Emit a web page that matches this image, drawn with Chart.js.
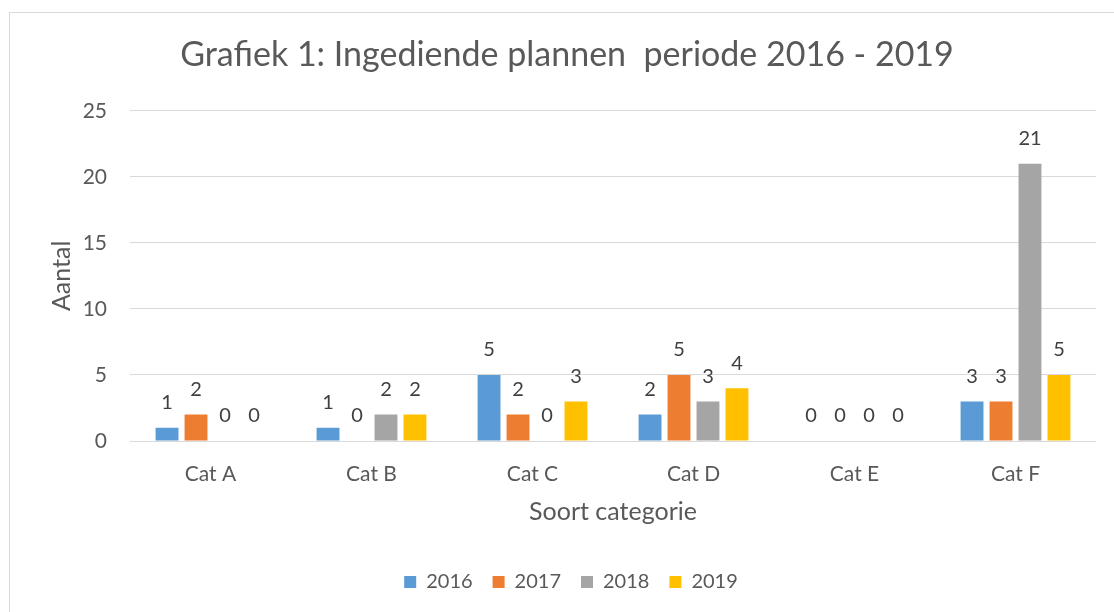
<!DOCTYPE html>
<html>
<head>
<meta charset="utf-8">
<script src="https://cdn.jsdelivr.net/npm/chart.js@4.4.1/dist/chart.umd.min.js"></script>
<style>
  html, body { margin: 0; padding: 0; background: #fff; overflow: hidden; }
  #frame { position: absolute; left: 9px; top: 12px; width: 1200px; height: 700px; border: 1px solid #d9d9d9; }
  #wrap { position: absolute; left: 0; top: 0; width: 1114px; height: 612px; }
</style>
</head>
<body>
<div id="frame"></div>
<div id="wrap"><canvas id="chart"></canvas></div>
<script>
'use strict';

// categories and values per year
var categories = ['Cat A', 'Cat B', 'Cat C', 'Cat D', 'Cat E', 'Cat F'];
var years = ['2016', '2017', '2018', '2019'];
var values2016 = [1, 1, 5, 2, 0, 3];
var values2017 = [2, 0, 2, 5, 0, 3];
var values2018 = [0, 2, 0, 3, 0, 21];
var values2019 = [0, 2, 3, 4, 0, 5];
var yTicks = [0, 5, 10, 15, 20, 25];

var colors = ['#5b9bd5', '#ed7d31', '#a5a5a5', '#ffc000'];
var FONT = 'Lato';

// value labels above each bar
var barLabels = {
  id: 'barLabels',
  afterLayout: function(chart) {
    // Excel centres title and legend a bit further right
    chart.legend.left += 46;
    chart.titleBlock.left += 38;
  },
  afterDatasetsDraw: function(chart) {
    var ctx = chart.ctx;
    ctx.save();
    ctx.font = '20px ' + FONT;
    ctx.fillStyle = '#404040';
    ctx.textAlign = 'center';
    ctx.textBaseline = 'middle';
    chart.data.datasets.forEach(function(ds, i) {
      chart.getDatasetMeta(i).data.forEach(function(bar, j) {
        ctx.fillText(String(ds.data[j]), bar.x, bar.y - 25);
      });
    });
    ctx.restore();
  }
};

var series = [values2016, values2017, values2018, values2019];
var datasets = years.map(function(y, i) {
  return {
    label: y,
    data: series[i],
    backgroundColor: colors[i],
    borderWidth: 0,
    categoryPercentage: 0.72,
    barPercentage: 0.79
  };
});

new Chart(document.getElementById('chart'), {
  type: 'bar',
  data: { labels: categories, datasets: datasets },
  plugins: [barLabels],
  options: {
    responsive: true,
    maintainAspectRatio: false,
    animation: false,
    layout: { padding: { left: 0, right: 18, top: 0, bottom: 10 } },
    plugins: {
      title: {
        display: true,
        text: 'Grafiek 1: Ingediende plannen  periode 2016 - 2019',
        color: '#595959',
        font: { family: FONT, size: 34, weight: 'normal' },
        padding: { top: 35, bottom: 35 }
      },
      legend: {
        position: 'bottom',
        labels: {
          color: '#595959',
          font: { family: FONT, size: 20 },
          boxWidth: 12,
          boxHeight: 12,
          padding: 20
        }
      },
      tooltip: { enabled: false }
    },
    scales: {
      x: {
        grid: { display: false, drawTicks: false },
        border: { display: false },
        ticks: { color: '#595959', font: { family: FONT, size: 21 }, padding: 21 },
        title: {
          display: true,
          text: 'Soort categorie',
          color: '#595959',
          font: { family: FONT, size: 25 },
          padding: { top: 0, bottom: 25 }
        },
        afterFit: function(scale) { scale.height = 111; }
      },
      y: {
        min: 0,
        max: 25,
        grid: { color: '#d9d9d9', lineWidth: 1, drawTicks: false },
        border: { display: false },
        ticks: {
          color: '#595959',
          font: { family: FONT, size: 21 },
          padding: 23,
          stepSize: 5,
          callback: function(v) { return yTicks.indexOf(v) >= 0 ? v : ''; }
        },
        title: {
          display: true,
          text: 'Aantal',
          color: '#595959',
          font: { family: FONT, size: 25 },
          padding: { top: 47, bottom: 0 }
        },
        afterFit: function(scale) { scale.width = 130; }
      }
    }
  }
});
</script>
</body>
</html>
